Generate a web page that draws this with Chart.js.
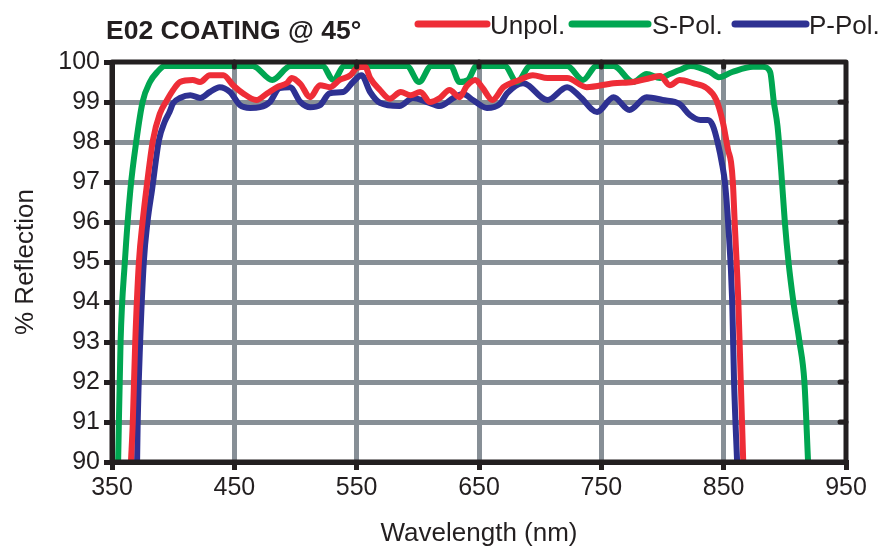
<!DOCTYPE html>
<html>
<head>
<meta charset="utf-8">
<script src="https://cdn.jsdelivr.net/npm/chart.js@4.4.1/dist/chart.umd.min.js"></script>
<style>
  html, body { margin: 0; padding: 0; background: #fff; }
  #wrap { width: 887px; height: 549px; }
</style>
</head>
<body>
<div id="wrap"><canvas id="chart" width="887" height="549"></canvas></div>
<script>
const chartTitle = 'E02 COATING @ 45°';
const xTicks = [350, 450, 550, 650, 750, 850, 950];
const yTicks = [90, 91, 92, 93, 94, 95, 96, 97, 98, 99, 100];

// Unpol. (red)
const unpolWl = [365.5, 367, 369, 372, 375, 378, 383.5, 389, 395, 400, 405.6, 416, 422, 430, 441, 449, 457, 468, 477, 485, 493, 497, 504, 512, 520, 528, 536, 545, 550, 557, 561, 569, 577, 586, 594, 602, 610, 618, 626, 634, 640, 647, 653, 661, 670, 683, 694, 706, 722, 738, 760, 776, 790, 798, 806, 814, 825, 836, 844, 849.5, 853.6, 856, 857.5, 859, 862, 864, 866];
const unpolVal = [90, 91, 93, 95, 96, 96.8, 98.05, 98.7, 99.05, 99.3, 99.5, 99.55, 99.5, 99.67, 99.67, 99.42, 99.22, 99.05, 99.22, 99.37, 99.47, 99.6, 99.45, 99.12, 99.42, 99.37, 99.55, 99.67, 99.85, 99.88, 99.6, 99.3, 99.08, 99.25, 99.17, 99.25, 99.0, 99.1, 99.3, 99.12, 99.4, 99.55, 99.35, 99.05, 99.37, 99.55, 99.67, 99.6, 99.6, 99.37, 99.47, 99.5, 99.6, 99.65, 99.42, 99.55, 99.47, 99.35, 99.05, 98.47, 97.8, 97.5, 97.0, 96, 94, 92, 90];

// S-Pol. (green)
const sPolWl = [355, 357, 360.5, 365, 370, 375, 381, 387, 393, 465, 481, 496, 522, 531, 540, 591, 601, 611, 627, 634, 641, 648, 671, 681, 692, 722, 735, 746, 760, 776, 787, 798, 806, 814, 823, 839, 846, 857, 874, 882, 888, 891, 894, 897, 900, 903, 907, 912, 916, 919];
const sPolVal = [90, 93, 95, 96.8, 98.05, 99, 99.5, 99.75, 99.9, 99.9, 99.55, 99.9, 99.9, 99.55, 99.9, 99.9, 99.5, 99.9, 99.9, 99.5, 99.55, 99.9, 99.9, 99.5, 99.9, 99.9, 99.55, 99.9, 99.9, 99.5, 99.7, 99.6, 99.7, 99.8, 99.9, 99.75, 99.62, 99.75, 99.88, 99.88, 99.75, 99.0, 98.4, 97.3, 96, 95, 94, 93, 92, 90];

// P-Pol. (blue)
const pPolWl = [370.5, 371, 373, 376, 379, 382.7, 388.4, 393, 397, 400, 405.6, 414, 422, 430, 438, 446.5, 454.6, 463, 471, 479, 487, 495.5, 504, 512, 520, 528, 539, 547, 554, 561, 569, 585, 596, 607.5, 618, 629, 637, 645, 656.5, 667, 673, 686, 706, 722, 733, 746.5, 760, 773, 787, 800, 814, 822.5, 831, 837, 841, 845, 849, 851, 853.6, 857, 858.5, 861];
const pPolVal = [90, 91, 93, 95, 96, 96.8, 98.05, 98.5, 98.75, 98.97, 99.1, 99.17, 99.1, 99.25, 99.37, 99.25, 98.92, 98.85, 98.87, 99.0, 99.35, 99.37, 99.0, 98.87, 98.92, 99.22, 99.25, 99.5, 99.67, 99.25, 98.98, 98.9, 99.1, 99.0, 98.9, 99.1, 99.2, 99.05, 98.85, 98.95, 99.22, 99.47, 99.05, 99.37, 99.12, 98.75, 99.12, 98.8, 99.12, 99.05, 98.95, 98.67, 98.55, 98.55, 98.42, 98.0, 97.4, 97.0, 96, 94, 92, 90];

const ink = '#231f20';
const gridGray = '#878f96';
const FONT = "'Liberation Sans', Arial, Helvetica, sans-serif";

const toPts = (wl, val) => wl.map((w, i) => ({ x: w, y: val[i] }));

const series = [
  { label: 'Unpol.', color: '#ee2d37', data: toPts(unpolWl, unpolVal) },
  { label: 'S-Pol.', color: '#00a651', data: toPts(sPolWl, sPolVal) },
  { label: 'P-Pol.', color: '#2e3192', data: toPts(pPolWl, pPolVal) }
];

// frame on all four sides plus small inner tick nubs on top/right
const framePlugin = {
  id: 'frame',
  afterDatasetsDraw(chart) {
    const { ctx, chartArea: a, scales: { x, y } } = chart;
    ctx.save();
    ctx.strokeStyle = ink;
    ctx.lineWidth = 5;
    ctx.lineJoin = 'round';
    ctx.strokeRect(a.left, a.top, a.right - a.left, a.bottom - a.top);
    ctx.lineCap = 'round';
    xTicks.slice(1, -1).forEach(v => {
      const px = x.getPixelForValue(v);
      ctx.beginPath(); ctx.moveTo(px, a.top); ctx.lineTo(px, a.top + 5); ctx.stroke();
    });
    yTicks.slice(1, -1).forEach(v => {
      const py = y.getPixelForValue(v);
      ctx.beginPath(); ctx.moveTo(a.right, py); ctx.lineTo(a.right - 6, py); ctx.stroke();
    });
    ctx.restore();
  }
};

// title + legend on one row
const headerPlugin = {
  id: 'header',
  afterDraw(chart) {
    const ctx = chart.ctx;
    ctx.save();
    ctx.fillStyle = ink;
    ctx.textBaseline = 'alphabetic';
    ctx.font = 'bold 26.5px ' + FONT;
    ctx.fillText(chartTitle, 106, 39);
    const slots = [[418, 487, 490], [572, 648, 652], [735, 806, 809]];
    ctx.font = '26px ' + FONT;
    ctx.lineCap = 'round';
    ctx.lineWidth = 7;
    series.forEach((s, i) => {
      const [x0, x1, tx] = slots[i];
      ctx.strokeStyle = s.color;
      ctx.beginPath(); ctx.moveTo(x0, 24); ctx.lineTo(x1, 24); ctx.stroke();
      ctx.fillText(s.label, tx, 34);
    });
    ctx.restore();
  }
};

const hideEdges = (c) => (c.index === 0 || c.index === c.chart.scales[c.scale.id].ticks.length - 1) ? 'rgba(0,0,0,0)' : gridGray;

new Chart(document.getElementById('chart'), {
  type: 'line',
  data: {
    datasets: series.map(s => ({
      label: s.label,
      data: s.data,
      borderColor: s.color,
      borderWidth: 6,
      pointRadius: 0,
      fill: false,
      cubicInterpolationMode: 'monotone'
    }))
  },
  options: {
    responsive: false,
    animation: false,
    layout: { padding: { top: 62, right: 41, left: 0, bottom: 0 } },
    plugins: { legend: { display: false }, title: { display: false }, tooltip: { enabled: false } },
    scales: {
      x: {
        type: 'linear', min: 350, max: 950,
        afterBuildTicks: s => { s.ticks = xTicks.map(v => ({ value: v })); },
        afterFit: s => { s.height = 87; },
        ticks: { color: ink, font: { family: FONT, size: 25 }, padding: 3, maxRotation: 0 },
        grid: { color: c => hideEdges(c), lineWidth: 5, tickLength: 8, tickColor: ink, tickWidth: 5 },
        border: { color: ink, width: 5 },
        title: { display: true, text: 'Wavelength (nm)', color: ink, font: { family: FONT, size: 26 }, padding: { top: 0, bottom: 0 } }
      },
      y: {
        min: 90, max: 100,
        afterBuildTicks: s => { s.ticks = yTicks.map(v => ({ value: v })); },
        afterFit: s => { s.width = 112; },
        ticks: { color: ink, font: { family: FONT, size: 25 }, padding: 4 },
        grid: { color: c => hideEdges(c), lineWidth: 5, tickLength: 8, tickColor: ink, tickWidth: 5 },
        border: { color: ink, width: 5 },
        title: { display: true, text: '% Reflection', color: ink, font: { family: FONT, size: 26 }, padding: { top: 10, bottom: 0 } }
      }
    }
  },
  plugins: [framePlugin, headerPlugin]
});
</script>
</body>
</html>
